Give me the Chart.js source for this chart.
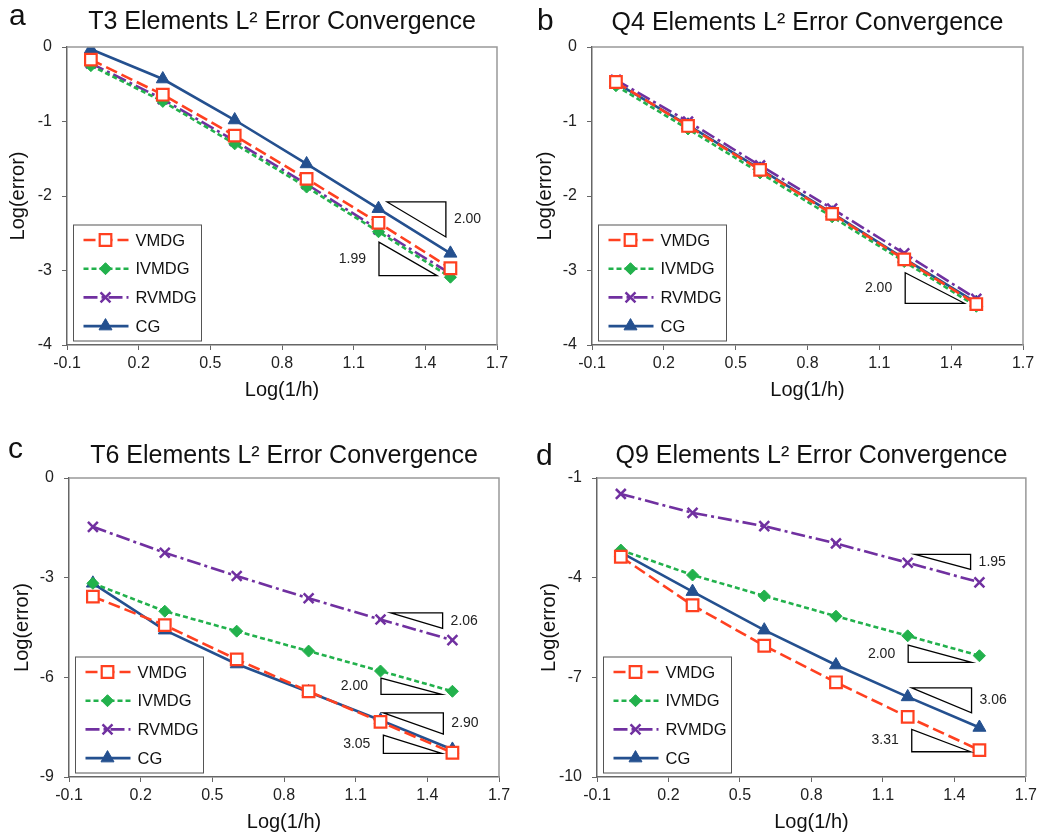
<!DOCTYPE html>
<html>
<head>
<meta charset="utf-8">
<title>L2 Error Convergence</title>
<script src="https://cdn.jsdelivr.net/npm/chart.js@4.4.0/dist/chart.umd.min.js"></script>
<style>
  body { margin: 0; background: #fff; }
  #page { position: relative; width: 1041px; height: 837px; background: #fff; }
  #page canvas { position: absolute; }
</style>
</head>
<body>
<div id="page">
  <canvas id="chartT3" width="520" height="420" style="left:0;top:0"></canvas>
  <canvas id="chartQ4" width="521" height="420" style="left:520px;top:0"></canvas>
  <canvas id="chartT6" width="520" height="417" style="left:0;top:420px"></canvas>
  <canvas id="chartQ9" width="521" height="417" style="left:520px;top:420px"></canvas>
</div>
<script>
// log10(1/h) for h = 1, 1/2, 1/4, 1/8, 1/16, 1/32
const logInvH = [0, 0.301, 0.602, 0.903, 1.204, 1.505];
const seriesNames = ['VMDG', 'IVMDG', 'RVMDG', 'CG'];
const xTicks = [-0.1, 0.2, 0.5, 0.8, 1.1, 1.4, 1.7];

// log10 of the L2 error
const t3Vmdg = [-0.17, -0.64, -1.19, -1.77, -2.36, -2.97];
const t3Ivmdg = [-0.25, -0.73, -1.30, -1.88, -2.48, -3.09];
const t3Rvmdg = [-0.22, -0.70, -1.26, -1.84, -2.45, -3.04];
const t3Cg = [-0.03, -0.43, -0.98, -1.57, -2.17, -2.77];

const q4Vmdg = [-0.47, -1.06, -1.65, -2.24, -2.85, -3.45];
const q4Ivmdg = [-0.52, -1.10, -1.69, -2.28, -2.88, -3.48];
const q4Rvmdg = [-0.44, -1.00, -1.59, -2.17, -2.77, -3.38];
const q4Cg = [-0.48, -1.05, -1.64, -2.23, -2.84, -3.43];

const t6Vmdg = [-3.57, -4.43, -5.46, -6.42, -7.34, -8.27];
const t6Ivmdg = [-3.17, -4.01, -4.61, -5.21, -5.81, -6.42];
const t6Rvmdg = [-1.47, -2.25, -2.95, -3.62, -4.26, -4.88];
const t6Cg = [-3.17, -4.58, -5.60, -6.44, -7.29, -8.17];

const q9Vmdg = [-3.37, -4.83, -6.05, -7.15, -8.19, -9.19];
const q9Ivmdg = [-3.17, -3.92, -4.55, -5.16, -5.75, -6.35];
const q9Rvmdg = [-1.48, -2.05, -2.45, -2.97, -3.55, -4.14];
const q9Cg = [-3.24, -4.42, -5.58, -6.63, -7.59, -8.51];

// slope triangles: x0..x1 and y0 (top) .. y1 (bottom) in axis units
const t3Slopes = [
  { x0: 1.240, x1: 1.486, y0: -2.08, y1: -2.55, side: 'right', label: '2.00' },
  { x0: 1.206, x1: 1.449, y0: -2.62, y1: -3.07, side: 'left', label: '1.99' }
];
const q4Slopes = [
  { x0: 1.208, x1: 1.455, y0: -3.03, y1: -3.44, side: 'left', label: '2.00' }
];
const t6Slopes = [
  { x0: 1.247, x1: 1.464, y0: -4.06, y1: -4.53, side: 'right', label: '2.06' },
  { x0: 1.206, x1: 1.460, y0: -6.02, y1: -6.51, side: 'left', label: '2.00' },
  { x0: 1.216, x1: 1.467, y0: -7.07, y1: -7.71, side: 'right', label: '2.90' },
  { x0: 1.216, x1: 1.460, y0: -7.74, y1: -8.29, side: 'left', label: '3.05' }
];
const q9Slopes = [
  { x0: 1.235, x1: 1.468, y0: -3.30, y1: -3.75, side: 'right', label: '1.95' },
  { x0: 1.206, x1: 1.472, y0: -6.03, y1: -6.55, side: 'left', label: '2.00' },
  { x0: 1.221, x1: 1.472, y0: -7.32, y1: -8.07, side: 'right', label: '3.06' },
  { x0: 1.221, x1: 1.468, y0: -8.57, y1: -9.24, side: 'left', label: '3.31' }
];

const FONT = "'Liberation Sans', Arial, Helvetica, sans-serif";
Chart.defaults.font.family = FONT;
Chart.defaults.color = '#222';

const seriesStyles = [
  { color: '#FF4020', dash: [12, 5], pointStyle: 'rect', radius: 8.2, fill: '#ffffff', pointBorder: 2.2 },
  { color: '#22B14C', dash: [5, 3], pointStyle: 'rectRot', radius: 6, fill: '#22B14C', pointBorder: 1 },
  { color: '#7030A0', dash: [14, 4, 3, 4], pointStyle: 'crossRot', radius: 7, fill: '#7030A0', pointBorder: 2.5 },
  { color: '#24508F', dash: [], pointStyle: 'triangle', radius: 7.5, fill: '#24508F', pointBorder: 1 }
];

function buildDatasets(seriesList) {
  return seriesList.map((values, i) => {
    const s = seriesStyles[i];
    return {
      label: seriesNames[i],
      data: logInvH.map((x, j) => ({ x: x, y: values[j] })),
      borderColor: s.color,
      borderWidth: 2.6,
      borderDash: s.dash,
      pointStyle: s.pointStyle,
      pointRadius: s.radius,
      pointBackgroundColor: s.fill,
      pointBorderColor: s.color,
      pointBorderWidth: s.pointBorder,
      tension: 0,
      fill: false
    };
  });
}

// panel letter, title, frame, slope triangles and the boxed legend
const decorPlugin = {
  id: 'panelDecor',
  afterDatasetsDraw(chart) {
    const { ctx, scales } = chart;
    const slopes = chart.options.plugins.panelDecor.slopes;
    ctx.save();
    ctx.strokeStyle = '#000';
    ctx.lineWidth = 1.3;
    ctx.setLineDash([]);
    ctx.fillStyle = '#222';
    ctx.font = '14px ' + FONT;
    ctx.textBaseline = 'middle';
    slopes.forEach(t => {
      const x0 = scales.x.getPixelForValue(t.x0);
      const x1 = scales.x.getPixelForValue(t.x1);
      const y0 = scales.y.getPixelForValue(t.y0);
      const y1 = scales.y.getPixelForValue(t.y1);
      ctx.beginPath();
      if (t.side === 'right') {
        ctx.moveTo(x0, y0); ctx.lineTo(x1, y0); ctx.lineTo(x1, y1);
      } else {
        ctx.moveTo(x0, y0); ctx.lineTo(x0, y1); ctx.lineTo(x1, y1);
      }
      ctx.closePath();
      ctx.stroke();
      const midY = (y0 + y1) / 2;
      if (t.side === 'right') {
        ctx.textAlign = 'left';
        ctx.fillText(t.label, x1 + 8, midY);
      } else {
        ctx.textAlign = 'right';
        ctx.fillText(t.label, x0 - 13, midY);
      }
    });
    ctx.restore();
  },
  afterDraw(chart) {
    const { ctx, chartArea } = chart;
    const opts = chart.options.plugins.panelDecor;
    ctx.save();

    // top and right edges of the plot frame
    ctx.strokeStyle = '#999';
    ctx.lineWidth = 1.5;
    ctx.beginPath();
    ctx.moveTo(chartArea.left, chartArea.top);
    ctx.lineTo(chartArea.right, chartArea.top);
    ctx.lineTo(chartArea.right, chartArea.bottom);
    ctx.stroke();

    // panel letter and title
    ctx.fillStyle = '#111';
    ctx.textBaseline = 'alphabetic';
    ctx.textAlign = 'left';
    ctx.font = '30px ' + FONT;
    ctx.fillText(opts.letter, opts.letterX, opts.letterY);
    ctx.textAlign = 'center';
    ctx.font = '25px ' + FONT;
    ctx.fillText(opts.title, (chartArea.left + chartArea.right) / 2, opts.titleY);

    // legend box
    const bx = chartArea.left + 6.5, bw = 128, bh = 116;
    const by = chartArea.bottom - 4 - bh;
    ctx.fillStyle = '#fff';
    ctx.fillRect(bx, by, bw, bh);
    ctx.strokeStyle = '#555';
    ctx.lineWidth = 1;
    ctx.strokeRect(bx, by, bw, bh);
    ctx.font = '16.5px ' + FONT;
    ctx.textAlign = 'left';
    ctx.textBaseline = 'middle';
    chart.data.datasets.forEach((ds, i) => {
      const ry = by + 15 + i * 28.7;
      ctx.strokeStyle = ds.borderColor;
      ctx.lineWidth = ds.borderWidth;
      ctx.setLineDash(ds.borderDash);
      ctx.beginPath();
      ctx.moveTo(bx + 10, ry);
      ctx.lineTo(bx + 55, ry);
      ctx.stroke();
      ctx.setLineDash([]);
      ctx.fillStyle = ds.pointBackgroundColor;
      ctx.strokeStyle = ds.pointBorderColor;
      ctx.lineWidth = ds.pointBorderWidth;
      Chart.helpers.drawPoint(ctx, {
        pointStyle: ds.pointStyle,
        radius: ds.pointRadius,
        borderWidth: ds.pointBorderWidth,
        rotation: 0
      }, bx + 32, ry);
      ctx.fillStyle = '#111';
      ctx.fillText(ds.label, bx + 62, ry + 1);
    });
    ctx.restore();
  }
};

function makePanel(cfg) {
  const ctx = document.getElementById(cfg.id).getContext('2d');
  return new Chart(ctx, {
    type: 'line',
    data: { datasets: buildDatasets(cfg.series) },
    options: {
      responsive: false,
      animation: false,
      layout: { padding: { top: cfg.padTop, right: cfg.padRight, left: 0, bottom: 0 } },
      plugins: {
        legend: { display: false },
        tooltip: { enabled: false },
        panelDecor: {
          letter: cfg.letter, letterX: cfg.letterX, letterY: cfg.letterY,
          title: cfg.title, titleY: cfg.titleY, slopes: cfg.slopes
        }
      },
      scales: {
        x: {
          type: 'linear',
          min: xTicks[0],
          max: xTicks[xTicks.length - 1],
          afterBuildTicks: scale => { scale.ticks = xTicks.map(v => ({ value: v })); },
          ticks: {
            font: { size: 16 },
            color: '#222',
            padding: 4,
            maxRotation: 0,
            callback: v => v.toFixed(1)
          },
          grid: { drawOnChartArea: false, drawTicks: true, tickLength: 5, color: '#666' },
          border: { color: '#666', width: 1.5 },
          title: {
            display: true,
            text: 'Log(1/h)',
            font: { size: 20 },
            color: '#111',
            padding: { top: 0, bottom: cfg.xTitlePad }
          },
          afterFit: scale => { scale.height = cfg.xHeight; }
        },
        y: {
          type: 'linear',
          min: cfg.yTicks[0],
          max: cfg.yTicks[cfg.yTicks.length - 1],
          afterBuildTicks: scale => { scale.ticks = cfg.yTicks.map(v => ({ value: v })); },
          ticks: {
            font: { size: 16 },
            color: '#222',
            padding: 10,
            callback: v => String(v)
          },
          grid: { drawOnChartArea: false, drawTicks: true, tickLength: 5, color: '#666' },
          border: { color: '#666', width: 1.5 },
          title: {
            display: true,
            text: 'Log(error)',
            font: { size: 20 },
            color: '#111',
            padding: { top: cfg.yTitlePad, bottom: 0 }
          },
          afterFit: scale => { scale.width = cfg.yWidth; }
        }
      }
    },
    plugins: [decorPlugin]
  });
}

makePanel({
  id: 'chartT3', letter: 'a', letterX: 9, letterY: 25,
  title: 'T3 Elements L² Error Convergence', titleY: 29,
  series: [t3Vmdg, t3Ivmdg, t3Rvmdg, t3Cg], slopes: t3Slopes,
  yTicks: [-4, -3, -2, -1, 0],
  padTop: 47, padRight: 23, yWidth: 67, xHeight: 75, xTitlePad: 18, yTitlePad: 6
});
makePanel({
  id: 'chartQ4', letter: 'b', letterX: 17, letterY: 30,
  title: 'Q4 Elements L² Error Convergence', titleY: 30,
  series: [q4Vmdg, q4Ivmdg, q4Rvmdg, q4Cg], slopes: q4Slopes,
  yTicks: [-4, -3, -2, -1, 0],
  padTop: 47, padRight: 18, yWidth: 72, xHeight: 75, xTitlePad: 18, yTitlePad: 13
});
makePanel({
  id: 'chartT6', letter: 'c', letterX: 8, letterY: 38,
  title: 'T6 Elements L² Error Convergence', titleY: 43,
  series: [t6Vmdg, t6Ivmdg, t6Rvmdg, t6Cg], slopes: t6Slopes,
  yTicks: [-9, -6, -3, 0],
  padTop: 58, padRight: 21, yWidth: 69, xHeight: 60, xTitlePad: 3, yTitlePad: 10
});
makePanel({
  id: 'chartQ9', letter: 'd', letterX: 16, letterY: 45,
  title: 'Q9 Elements L² Error Convergence', titleY: 43,
  series: [q9Vmdg, q9Ivmdg, q9Rvmdg, q9Cg], slopes: q9Slopes,
  yTicks: [-10, -7, -4, -1],
  padTop: 58, padRight: 15, yWidth: 77, xHeight: 60, xTitlePad: 3, yTitlePad: 17
});
</script>
</body>
</html>
